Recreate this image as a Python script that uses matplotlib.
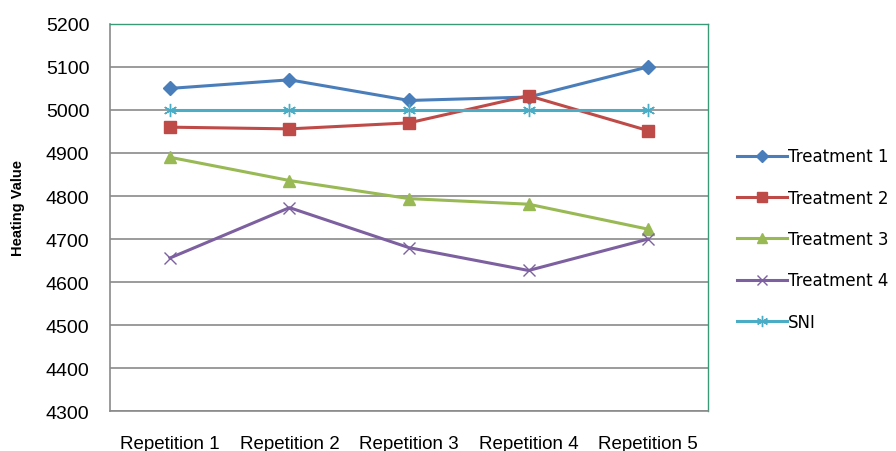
import matplotlib.pyplot as plt

# Heating value per repetition for each treatment
repetitions = ["Repetition 1", "Repetition 2", "Repetition 3", "Repetition 4", "Repetition 5"]
treatment1 = [5050, 5070, 5022, 5030, 5100]
treatment2 = [4960, 4956, 4970, 5033, 4952]
treatment3 = [4890, 4836, 4794, 4781, 4723]
treatment4 = [4656, 4773, 4680, 4627, 4700]
sni = [5000, 5000, 5000, 5000, 5000]

series_names = ["Treatment 1", "Treatment 2", "Treatment 3", "Treatment 4", "SNI"]

plt.rcParams['font.family'] = ['Liberation Sans', 'DejaVu Sans']

fig = plt.figure(figsize=(8.96, 4.52), dpi=100)
ax = fig.add_axes([0.123, 0.088, 0.667, 0.857])

x = range(len(repetitions))
styles = [
    (treatment1, "#4a7ebb", "D", 7, 1.0),
    (treatment2, "#be4b48", "s", 8.5, 1.0),
    (treatment3, "#98b954", "^", 8.5, 1.0),
    (treatment4, "#7d60a0", "x", 8.5, 1.0),
    (sni, "#4bacc6", (6, 2, 0), 9.5, 1.0),
]
for (vals, col, mk, ms, mew), name in zip(styles, series_names):
    ax.plot(x, vals, color=col, lw=2.2, marker=mk, markersize=ms,
            markeredgewidth=mew, markeredgecolor=col, label=name, zorder=3)

ax.set_xlim(-0.5, len(repetitions) - 0.5)
ax.set_ylim(4300, 5200)
ax.set_yticks(range(4300, 5201, 100))
ax.set_xticks(list(x))
ax.set_xticklabels(repetitions, fontsize=13.5)
ax.tick_params(axis='y', labelsize=14, length=0, pad=15)
ax.tick_params(axis='x', length=0, pad=17)

ax.yaxis.grid(True, color="#8a8a8a", lw=1.2)
ax.set_axisbelow(True)

for side in ["top", "right"]:
    ax.spines[side].set_color("#3a9a78")
    ax.spines[side].set_linewidth(1.0)
for side in ["left", "bottom"]:
    ax.spines[side].set_color("#8a8a8a")
    ax.spines[side].set_linewidth(1.2)

ax.set_ylabel("Heating Value", fontsize=10.5, fontweight="bold")
ax.yaxis.set_label_coords(-0.142, 0.527)

# legend to the right, handles start just outside the plot frame
ax.legend(loc="center left", bbox_to_anchor=(737 / 896, 1 - 240 / 452),
          bbox_transform=fig.transFigure, frameon=False, borderpad=0,
          borderaxespad=0, prop={'family': 'DejaVu Sans', 'size': 12},
          handlelength=3.0, labelspacing=1.4, handletextpad=0.05,
          markerscale=0.85)

fig.savefig("out.png", dpi=100)
